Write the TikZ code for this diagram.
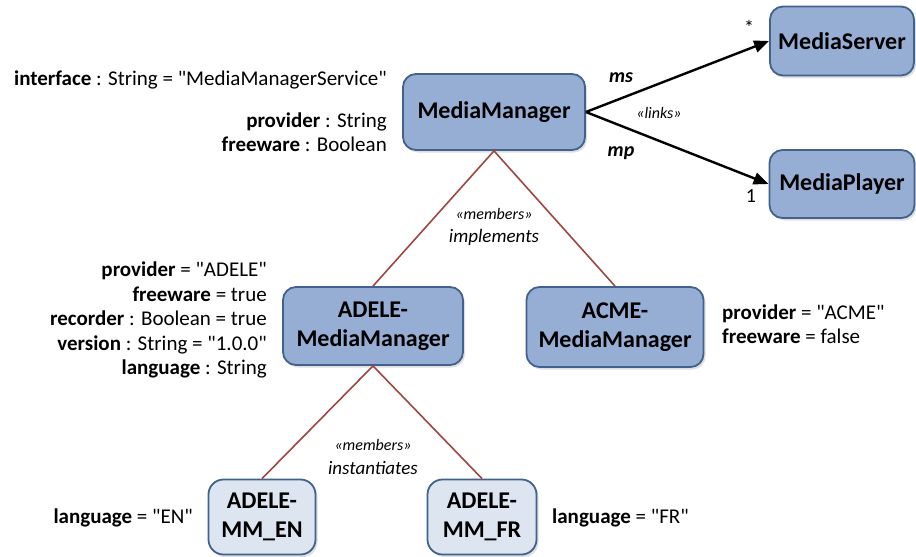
\documentclass[tikz,border=0pt]{standalone}
\usepackage{fontspec}
\setmainfont{Carlito}[Ligatures=TeXOff]
\usetikzlibrary{arrows.meta,shadows}
\definecolor{boxfill}{HTML}{96AED3}
\definecolor{boxpale}{HTML}{DDE5F0}
\definecolor{boxline}{HTML}{42618C}
\definecolor{relline}{HTML}{A04640}
\tikzset{
  cls/.style={draw=boxline, line width=1.8pt, fill=boxfill, rounded corners=13pt,
    align=center, font=\fontsize{24}{29}\selectfont\bfseries, inner sep=0pt,
    drop shadow={opacity=0.25, shadow xshift=2pt, shadow yshift=-2.5pt}},
  inst/.style={cls, fill=boxpale, rounded corners=15pt},
  attr/.style={font=\fontsize{21}{24.5}\selectfont, inner sep=0pt},
  rel/.style={draw=relline, line width=1.6pt},
  lnk/.style={draw=black, line width=2.4pt, -{Triangle[length=15pt,width=12pt]}},
  stereo/.style={font=\fontsize{16}{19}\selectfont\itshape, inner sep=0pt},
  rolel/.style={font=\fontsize{20}{24}\selectfont\bfseries\itshape, inner sep=0pt},
  mult/.style={font=\fontsize{20}{24}\selectfont, inner sep=0pt}
}
\begin{document}
\begin{tikzpicture}[x=1pt,y=-1pt]
\useasboundingbox (0,0) rectangle (916,557);
% classes
\node[cls, minimum width=182pt, minimum height=76pt] (mm) at (494,112) {MediaManager};
\node[cls, minimum width=144pt, minimum height=69pt] (ms) at (842,41) {MediaServer};
\node[cls, minimum width=145pt, minimum height=68pt] (mp) at (842,184) {MediaPlayer};
\node[cls, minimum width=180pt, minimum height=78pt] (adele) at (373,326) {ADELE-\\MediaManager};
\node[cls, minimum width=177pt, minimum height=80pt] (acme) at (615,327) {ACME-\\MediaManager};
\node[inst, minimum width=107pt, minimum height=75pt] (en) at (262,517) {ADELE-\\MM\_EN};
\node[inst, minimum width=109pt, minimum height=75pt] (fr) at (482,517) {ADELE-\\MM\_FR};
% member relations
\draw[rel] (adele.north) -- (mm.south) -- (acme.north);
\draw[rel] (en.north) -- (adele.south) -- (fr.north);
% links
\draw[lnk] (mm.east) -- (ms.west);
\draw[lnk] (mm.east) -- (mp.west);
% link labels
\node[rolel] (lms) at (621,78) {ms};
\node[rolel] (lmp) at (621,153) {mp};
\node[stereo] (llinks) at (659,113) {«links»};
\node[mult] (lstar) at (749,27) {*};
\node[mult] (lone) at (751,196) {1};
% member labels
\node[stereo] (mem1) at (494,214) {«members»};
\node[stereo, font=\fontsize{19}{22}\selectfont\itshape] (impl) at (494,237) {implements};
\node[stereo] (mem2) at (373,445) {«members»};
\node[stereo, font=\fontsize{19}{22}\selectfont\itshape] (inst) at (373,468) {instantiates};
% attributes
\node[attr, anchor=east] (a1) at (387,80) {\textbf{interface} : String = "MediaManagerService"};
\node[attr, anchor=east, align=right] (a2) at (387,132) {\textbf{provider} : String\\\textbf{freeware} : Boolean};
\node[attr, anchor=east, align=right] (a3) at (267,320) {\textbf{provider} = "ADELE"\\\textbf{freeware} = true\\\textbf{recorder} : Boolean = true\\\textbf{version} : String = "1.0.0"\\\textbf{language} : String};
\node[attr, anchor=west, align=left] (a4) at (722,324) {\textbf{provider} = "ACME"\\\textbf{freeware} = false};
\node[attr, anchor=east] (a5) at (193,518) {\textbf{language} = "EN"};
\node[attr, anchor=west] (a6) at (552,518) {\textbf{language} = "FR"};
\end{tikzpicture}
\end{document}
